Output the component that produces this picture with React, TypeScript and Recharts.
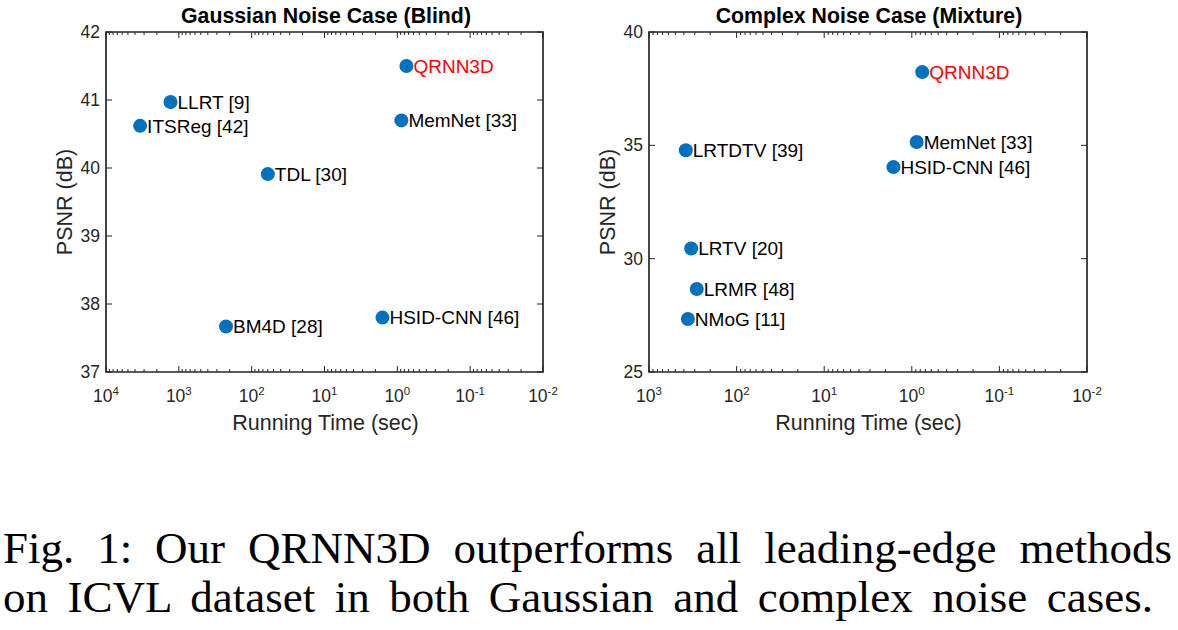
import { ReferenceArea, Scatter, ScatterChart, XAxis, YAxis } from "recharts";

const BLUE = "#0072BD";
const AXIS = "#262626";
const SANS = "'Liberation Sans', Arial, Helvetica, sans-serif";
const SERIF = "'Liberation Serif', 'Times New Roman', serif";

// Gaussian noise case (blind)
const gaussianMethods = ["QRNN3D", "LLRT [9]", "ITSReg [42]", "MemNet [33]", "TDL [30]", "BM4D [28]", "HSID-CNN [46]"];
const gaussianTime = [0.75, 1300, 3400, 0.88, 60, 225, 1.6];
const gaussianPsnr = [41.5, 40.97, 40.62, 40.7, 39.91, 37.67, 37.8];
const gaussianXTicks = [10000, 1000, 100, 10, 1, 0.1, 0.01];
const gaussianYTicks = [37, 38, 39, 40, 41, 42];

// Complex noise case (mixture)
const complexMethods = ["QRNN3D", "MemNet [33]", "HSID-CNN [46]", "LRTDTV [39]", "LRTV [20]", "LRMR [48]", "NMoG [11]"];
const complexTime = [0.76, 0.88, 1.62, 380, 330, 285, 360];
const complexPsnr = [38.23, 35.15, 34.04, 34.78, 30.45, 28.66, 27.34];
const complexXTicks = [1000, 100, 10, 1, 0.1, 0.01];
const complexYTicks = [25, 30, 35, 40];

const PLOT_TOP = 32;
const PLOT_HEIGHT = 340;
const PAD_LEFT = 60;
const PAD_RIGHT = 40;
const PAD_BOTTOM = 40;

const isMajor = (v: number) => Math.abs(Math.log10(v) - Math.round(Math.log10(v))) < 1e-6;

// major ticks plus the 2..9 minor ticks of each decade
function withMinor(major: number[]) {
	const out: number[] = [];
	major.forEach((m, i) => {
		out.push(m);
		if (i < major.length - 1) {
			const lo = major[i + 1];
			for (let k = 2; k <= 9; k++) out.push(lo * k);
		}
	});
	return out;
}

function XTick(props: any) {
	const { x, y, payload } = props;
	const v = payload.value as number;
	if (!isMajor(v)) {
		return (
			<g stroke={AXIS} strokeWidth={1}>
				<line x1={x} x2={x} y1={y} y2={y - 3} />
				<line x1={x} x2={x} y1={PLOT_TOP} y2={PLOT_TOP + 3} />
			</g>
		);
	}
	const exp = Math.round(Math.log10(v));
	return (
		<g>
			<line x1={x} x2={x} y1={y} y2={y - 6} stroke={AXIS} />
			<line x1={x} x2={x} y1={PLOT_TOP} y2={PLOT_TOP + 6} stroke={AXIS} />
			<text x={x} y={y + 30} textAnchor="middle" fontSize={17.5} fill={AXIS} fontFamily={SANS}>
				10
				<tspan dy={-7} fontSize={11.5}>
					{String(exp)}
				</tspan>
			</text>
		</g>
	);
}

function YTick(props: any) {
	const { x, y, payload, right } = props;
	return (
		<g>
			<line x1={x} x2={x + 6} y1={y} y2={y} stroke={AXIS} />
			<line x1={right - 6} x2={right} y1={y} y2={y} stroke={AXIS} />
			<text x={x - 6} y={y} dy="0.35em" textAnchor="end" fontSize={17.5} fill={AXIS} fontFamily={SANS}>
				{payload.value}
			</text>
		</g>
	);
}

function renderPoint(props: any) {
	const { cx, cy, payload } = props;
	return (
		<g>
			<circle cx={cx} cy={cy} r={7} fill={BLUE} />
			<text
				x={cx + 7}
				y={cy}
				dy="0.36em"
				fontSize={19}
				fontFamily={SANS}
				fill={payload.name === "QRNN3D" ? "#FF0000" : "#000"}
			>
				{payload.name}
			</text>
		</g>
	);
}

interface PanelProps {
	left: number;
	plotWidth: number;
	names: string[];
	times: number[];
	psnr: number[];
	xTicks: number[];
	yTicks: number[];
}

function Panel({ left, plotWidth, names, times, psnr, xTicks, yTicks }: PanelProps) {
	const data = names.map((name, i) => ({ name, x: times[i], y: psnr[i] }));
	const xMin = xTicks[xTicks.length - 1];
	const xMax = xTicks[0];
	const yMin = yTicks[0];
	const yMax = yTicks[yTicks.length - 1];
	const plotRight = PAD_LEFT + plotWidth;
	return (
		<div style={{ position: "absolute", left: left - PAD_LEFT, top: 0 }}>
			<ScatterChart
				width={PAD_LEFT + plotWidth + PAD_RIGHT}
				height={PLOT_TOP + PLOT_HEIGHT + PAD_BOTTOM}
				margin={{ top: PLOT_TOP, left: PAD_LEFT - 1, right: PAD_RIGHT, bottom: PAD_BOTTOM - 1 }}
			>
				<XAxis
					type="number"
					dataKey="x"
					scale="log"
					domain={[xMin, xMax]}
					reversed
					allowDataOverflow
					ticks={withMinor(xTicks)}
					interval={0}
					height={1}
					tickSize={0}
					tickMargin={0}
					tickLine={false}
					axisLine={false}
					tick={<XTick />}
				/>
				<YAxis
					type="number"
					dataKey="y"
					domain={[yMin, yMax]}
					ticks={yTicks}
					interval={0}
					width={1}
					tickSize={0}
					tickMargin={0}
					tickLine={false}
					axisLine={false}
					tick={(p: any) => <YTick {...p} right={plotRight} />}
				/>
				<ReferenceArea
					x1={xMax}
					x2={xMin}
					y1={yMin}
					y2={yMax}
					fill="none"
					fillOpacity={0}
					stroke={AXIS}
					strokeWidth={1.7}
					ifOverflow="visible"
				/>
				<Scatter data={data} isAnimationActive={false} shape={renderPoint} />
			</ScatterChart>
		</div>
	);
}

export default function App() {
	const labelStyle = { fontFamily: SANS, fill: AXIS, fontSize: 21.5 };
	return (
		<div
			style={{
				position: "absolute",
				left: 0,
				top: 0,
				width: 1178,
				height: 630,
				background: "#fff",
				overflow: "hidden",
			}}
		>
			<Panel
				left={106}
				plotWidth={437}
				names={gaussianMethods}
				times={gaussianTime}
				psnr={gaussianPsnr}
				xTicks={gaussianXTicks}
				yTicks={gaussianYTicks}
			/>
			<Panel
				left={649}
				plotWidth={438}
				names={complexMethods}
				times={complexTime}
				psnr={complexPsnr}
				xTicks={complexXTicks}
				yTicks={complexYTicks}
			/>
			<svg
				width={1178}
				height={460}
				style={{ position: "absolute", left: 0, top: 0, pointerEvents: "none" }}
			>
				<text x={326} y={23} textAnchor="middle" fontFamily={SANS} fontWeight="bold" fontSize={21.3} fill="#000">
					Gaussian Noise Case (Blind)
				</text>
				<text x={869} y={23} textAnchor="middle" fontFamily={SANS} fontWeight="bold" fontSize={21.3} fill="#000">
					Complex Noise Case (Mixture)
				</text>
				<text transform="translate(72,202) rotate(-90)" textAnchor="middle" {...labelStyle}>
					PSNR (dB)
				</text>
				<text transform="translate(615,202) rotate(-90)" textAnchor="middle" {...labelStyle}>
					PSNR (dB)
				</text>
				<text x={325.5} y={430} textAnchor="middle" {...labelStyle}>
					Running Time (sec)
				</text>
				<text x={868.5} y={430} textAnchor="middle" {...labelStyle}>
					Running Time (sec)
				</text>
			</svg>
			<div
				style={{
					position: "absolute",
					left: 3,
					top: 524,
					width: 1169,
					fontFamily: SERIF,
					fontSize: 45,
					lineHeight: "48px",
					textAlign: "justify",
					textAlignLast: "justify",
					whiteSpace: "nowrap",
				}}
			>
				Fig. 1: Our QRNN3D outperforms all leading-edge methods
			</div>
			<div
				style={{
					position: "absolute",
					left: 3,
					top: 573,
					width: 1150,
					fontFamily: SERIF,
					fontSize: 45,
					lineHeight: "48px",
					textAlign: "justify",
					textAlignLast: "justify",
					whiteSpace: "nowrap",
				}}
			>
				on ICVL dataset in both Gaussian and complex noise cases.
			</div>
		</div>
	);
}
